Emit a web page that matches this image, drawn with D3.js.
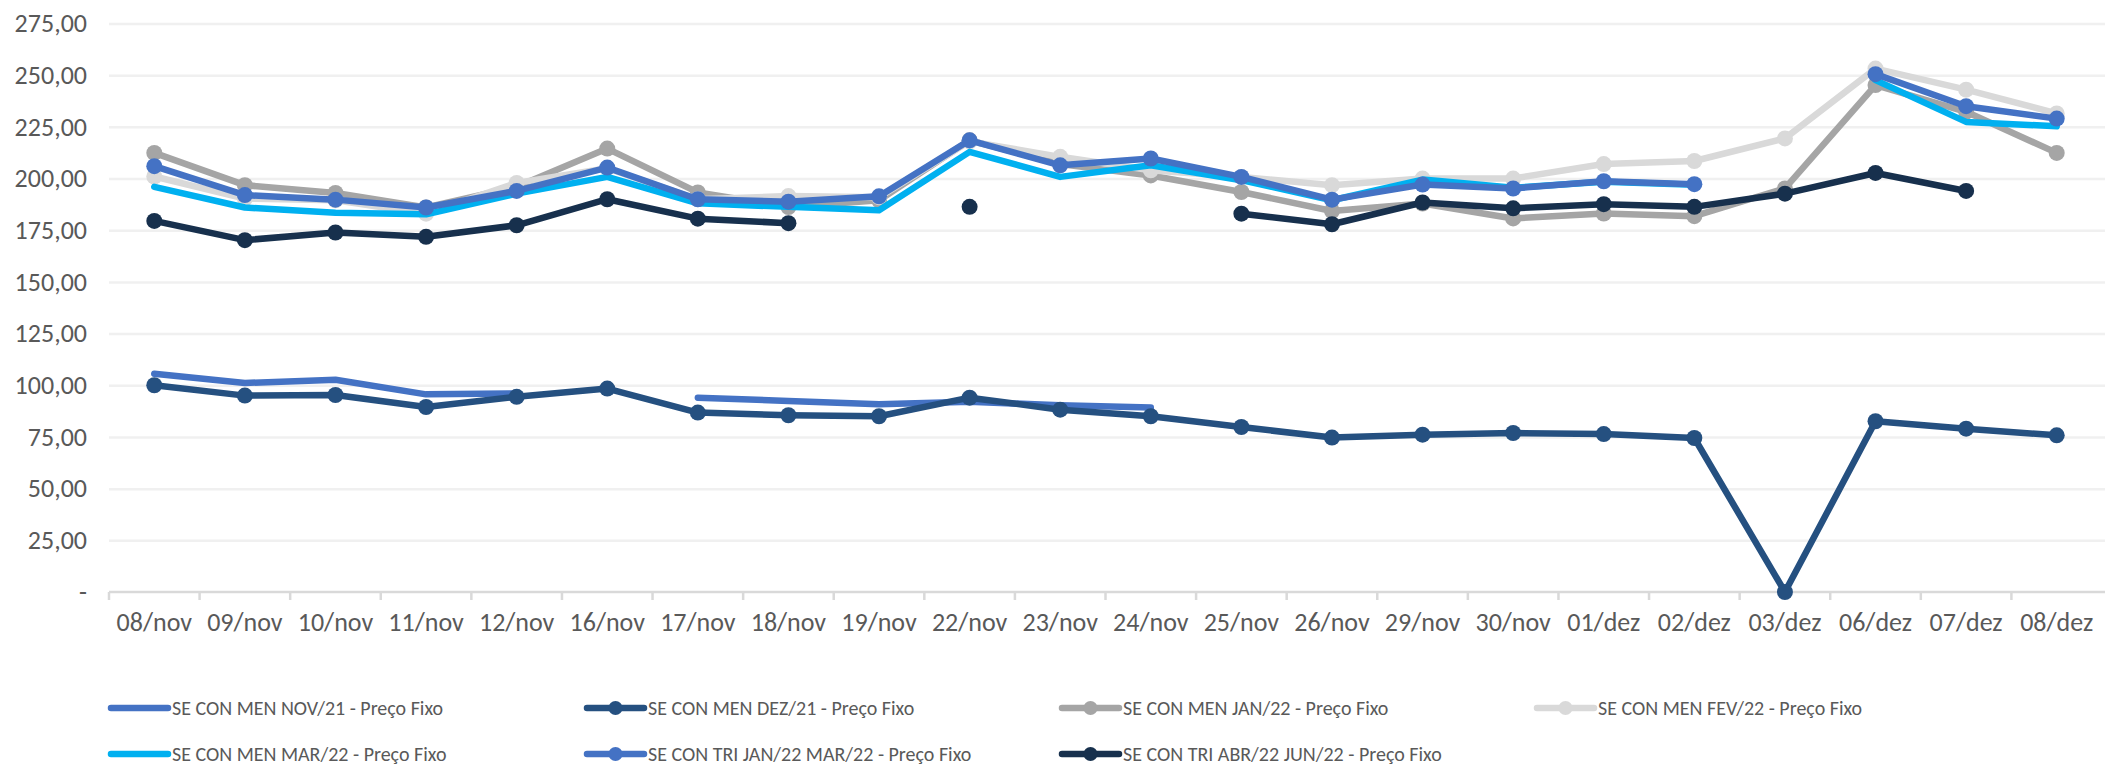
<!DOCTYPE html>
<html>
<head>
<meta charset="utf-8">
<script src="https://cdn.jsdelivr.net/npm/d3@7"></script>
<style>
    body { margin: 0; background: #fff; }
    svg text { font-family: Carlito, Calibri, "Liberation Sans Narrow", "Liberation Sans", sans-serif; fill: #595959; }
</style>
</head>
<body>
<div id="chart"></div>
<script>
// Datas do eixo X
const categories = ["08/nov","09/nov","10/nov","11/nov","12/nov","16/nov","17/nov","18/nov","19/nov","22/nov","23/nov",
    "24/nov","25/nov","26/nov","29/nov","30/nov","01/dez","02/dez","03/dez","06/dez","07/dez","08/dez"];

// Series (null = sem cotacao)
const menNov21 = [105.6, 101.1, 102.7, 95.6, 96.0, null, 94.0, 92.4, 90.8, 92.0, 90.3, 89.2,
    null, null, null, null, null, null, null, null, null, null];
const menDez21 = [100.0, 95.0, 95.3, 89.5, 94.4, 98.4, 86.8, 85.5, 85.0, 94.0, 88.2, 85.0,
    79.8, 74.7, 76.1, 76.9, 76.4, 74.5, 0, 82.6, 79.0, 75.8];
const menJan22 = [212.4, 196.8, 193.0, 186.0, 196.0, 214.5, 193.3, 186.2, 189.5, 218.5, 207.0, 201.5,
    193.5, 184.3, 187.9, 180.7, 183.1, 181.8, 195.2, 245.2, 232.3, 212.4];
const menFev22 = [201.0, 190.3, 189.5, 183.0, 197.9, 205.0, 190.0, 191.5, 191.0, 218.0, 210.5, 204.0,
    200.8, 196.8, 200.0, 200.0, 207.0, 208.5, 219.4, 253.2, 243.0, 231.5];
const menMar22 = [196.0, 186.0, 183.4, 182.7, 192.7, 200.8, 188.0, 186.3, 184.7, 212.9, 200.8, 206.4,
    199.2, 189.5, 199.5, 195.5, 198.5, 197.0, null, 247.6, 227.4, 225.3];
const triJanMar22 = [206.0, 192.0, 189.8, 186.0, 194.0, 205.3, 190.0, 188.8, 191.4, 218.5, 206.4, 209.7,
    200.8, 189.8, 197.1, 195.2, 198.7, 197.3, null, 250.5, 235.0, 229.0];
const triAbrJun22 = [179.5, 170.2, 173.9, 171.8, 177.4, 190.0, 180.6, 178.4, null, 186.3, null, null,
    183.0, 177.9, 188.4, 185.6, 187.6, 186.3, 192.7, 202.7, 194.0, null];

const yTicks = [0, 25, 50, 75, 100, 125, 150, 175, 200, 225, 250, 275];

const series = [
    { name: "SE CON MEN NOV/21 - Preço Fixo", values: menNov21, color: "#4472C4", marker: false },
    { name: "SE CON MEN DEZ/21 - Preço Fixo", values: menDez21, color: "#255080", marker: true },
    { name: "SE CON MEN JAN/22 - Preço Fixo", values: menJan22, color: "#A5A5A5", marker: true },
    { name: "SE CON MEN FEV/22 - Preço Fixo", values: menFev22, color: "#D9D9D9", marker: true },
    { name: "SE CON MEN MAR/22 - Preço Fixo", values: menMar22, color: "#00B0F0", marker: false },
    { name: "SE CON TRI JAN/22 MAR/22 - Preço Fixo", values: triJanMar22, color: "#4472C4", marker: true },
    { name: "SE CON TRI ABR/22 JUN/22 - Preço Fixo", values: triAbrJun22, color: "#17304D", marker: true }
];

const width = 2105, height = 769;
const plot = { left: 109, right: 2102, top: 23.5, bottom: 592 };

const svg = d3.select("#chart").append("svg")
    .attr("width", width)
    .attr("height", height);

const xScale = d3.scaleBand()
    .domain(categories)
    .range([plot.left, plot.right]);

const yScale = d3.scaleLinear()
    .domain([0, 275])
    .range([plot.bottom, plot.top]);

const fmt = d3.formatLocale({ decimal: ",", thousands: ".", grouping: [3], currency: ["", ""] }).format(",.2f");

// Grid lines + Y labels
svg.append("g")
    .attr("transform", `translate(${plot.left},0)`)
    .call(d3.axisLeft(yScale).tickValues(yTicks).tickSize(-(width - plot.left)).tickPadding(22)
        .tickFormat((d) => d === 0 ? "-" : fmt(d)))
    .call((g) => g.select(".domain").remove())
    .call((g) => g.selectAll(".tick line").attr("stroke", "#F0F0F0").attr("stroke-width", 2.5))
    .call((g) => g.selectAll(".tick").filter((d) => d === 0).select("line").remove())
    .selectAll("text")
        .style("font-size", "26px")
        .attr("fill", "#595959");

// X axis with ticks between categories
const xAxis = svg.append("g")
    .attr("transform", `translate(0,${plot.bottom})`);

xAxis.append("line")
    .attr("x1", plot.left).attr("x2", width)
    .attr("stroke", "#D9D9D9").attr("stroke-width", 2.5);

xAxis.selectAll(".sep")
    .data(categories)
    .join("line")
        .attr("x1", (d) => xScale(d)).attr("x2", (d) => xScale(d))
        .attr("y1", 0).attr("y2", 8)
        .attr("stroke", "#D9D9D9").attr("stroke-width", 2.5);

xAxis.selectAll(".lbl")
    .data(categories)
    .join("text")
        .text((d) => d)
        .attr("x", (d) => xScale(d) + xScale.bandwidth() / 2)
        .attr("y", 39)
        .style("text-anchor", "middle")
        .style("font-size", "26px");

// Lines and markers
const cx = (i) => xScale(categories[i]) + xScale.bandwidth() / 2;
const line = d3.line()
    .defined((d) => d != null)
    .x((d, i) => cx(i))
    .y((d) => yScale(d));

series.forEach((s) => {
    const g = svg.append("g");
    g.append("path")
        .datum(s.values)
        .attr("d", line)
        .attr("fill", "none")
        .attr("stroke", s.color)
        .attr("stroke-width", 6.5)
        .attr("stroke-linejoin", "round")
        .attr("stroke-linecap", "round");
    if (s.marker) {
        g.selectAll("circle")
            .data(s.values.map((v, i) => ({ v: v, i: i })).filter((d) => d.v != null))
            .join("circle")
                .attr("cx", (d) => cx(d.i))
                .attr("cy", (d) => yScale(d.v))
                .attr("r", 8)
                .attr("fill", s.color);
    }
});

// Legend
const legendX = [111, 587, 1062, 1537];
const legendY = [708, 754];

const legend = svg.append("g");
series.forEach((s, i) => {
    const x = legendX[i % 4];
    const y = legendY[Math.floor(i / 4)];
    const item = legend.append("g").attr("transform", `translate(${x},${y})`);
    item.append("line")
        .attr("x1", 0).attr("x2", 57)
        .attr("stroke", s.color)
        .attr("stroke-width", 6.5)
        .attr("stroke-linecap", "round");
    if (s.marker) {
        item.append("circle").attr("cx", 28.5).attr("r", 7).attr("fill", s.color);
    }
    item.append("text")
        .text(s.name)
        .attr("x", 61)
        .attr("dy", "0.35em")
        .style("font-size", "20px");
});
</script>
</body>
</html>
